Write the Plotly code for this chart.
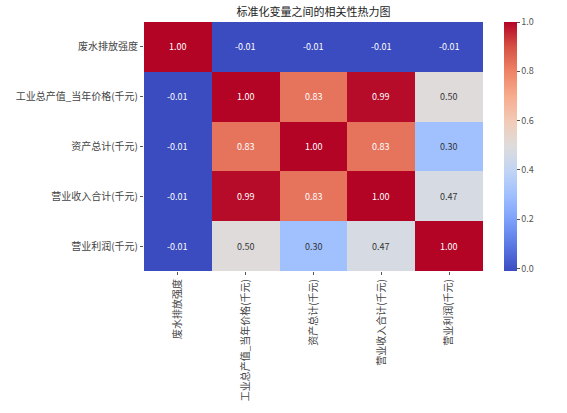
import plotly.graph_objects as go

labels = ["废水排放强度", "工业总产值_当年价格(千元)", "资产总计(千元)", "营业收入合计(千元)", "营业利润(千元)"]
row_wastewater = [1.00, -0.01, -0.01, -0.01, -0.01]
row_output = [-0.01, 1.00, 0.83, 0.99, 0.50]
row_assets = [-0.01, 0.83, 1.00, 0.83, 0.30]
row_revenue = [-0.01, 0.99, 0.83, 1.00, 0.47]
row_profit = [-0.01, 0.50, 0.30, 0.47, 1.00]
z = [row_wastewater, row_output, row_assets, row_revenue, row_profit]
cbar_ticks = [0.0, 0.2, 0.4, 0.6, 0.8, 1.0]

coolwarm = [
    [0.0, "#3b4cc0"], [0.1, "#5977e3"], [0.2, "#7b9ff9"], [0.3, "#9ebeff"],
    [0.4, "#c0d4f5"], [0.5, "#dddcdc"], [0.6, "#f2cbb7"], [0.7, "#f7ac8e"],
    [0.8, "#ee8468"], [0.9, "#d65244"], [1.0, "#b40426"],
]

font = "Noto Sans CJK SC, Noto Sans, sans-serif"
fig = go.Figure(go.Heatmap(
    z=z, x=labels, y=labels, colorscale=coolwarm, zmin=-0.01, zmax=1.0,
    xgap=0, ygap=0,
    colorbar=dict(x=1.062, xanchor="left", y=0.5, yanchor="middle", len=1.0, lenmode="fraction",
                  ypad=0, xpad=0,
                  thickness=13, outlinewidth=0, ticks="outside", ticklen=3, tickcolor="#555",
                  tickvals=cbar_ticks, ticktext=[f"{v:.1f}" for v in cbar_ticks],
                  tickfont=dict(size=9, color="#555", family=font)),
))

annotations = []
for i, row in enumerate(z):
    for j, v in enumerate(row):
        dark = 0.2 < v < 0.7
        annotations.append(dict(x=labels[j], y=labels[i], text=f"{v:.2f}", showarrow=False,
                                font=dict(size=9, family=font, color="#333" if dark else "#fff")))

fig.update_layout(
    width=567, height=413,
    margin=dict(l=144, r=84, t=22, b=138),
    paper_bgcolor="white", plot_bgcolor="white",
    title=dict(text="标准化变量之间的相关性热力图", x=(144 + 483) / 2 / 567, xanchor="center",
               y=1 - 12 / 413, yanchor="middle", font=dict(size=11, family=font, color="#222")),
    annotations=annotations,
    font=dict(family=font),
)
fig.update_xaxes(tickangle=-90, ticks="outside", ticklen=3, tickcolor="#555",
                 tickfont=dict(size=10, color="#444", family=font), showgrid=False, zeroline=False)
fig.update_yaxes(autorange="reversed", ticks="outside", ticklen=3, tickcolor="#555",
                 tickfont=dict(size=10, color="#444", family=font), showgrid=False, zeroline=False)

fig.write_html("out.html")
